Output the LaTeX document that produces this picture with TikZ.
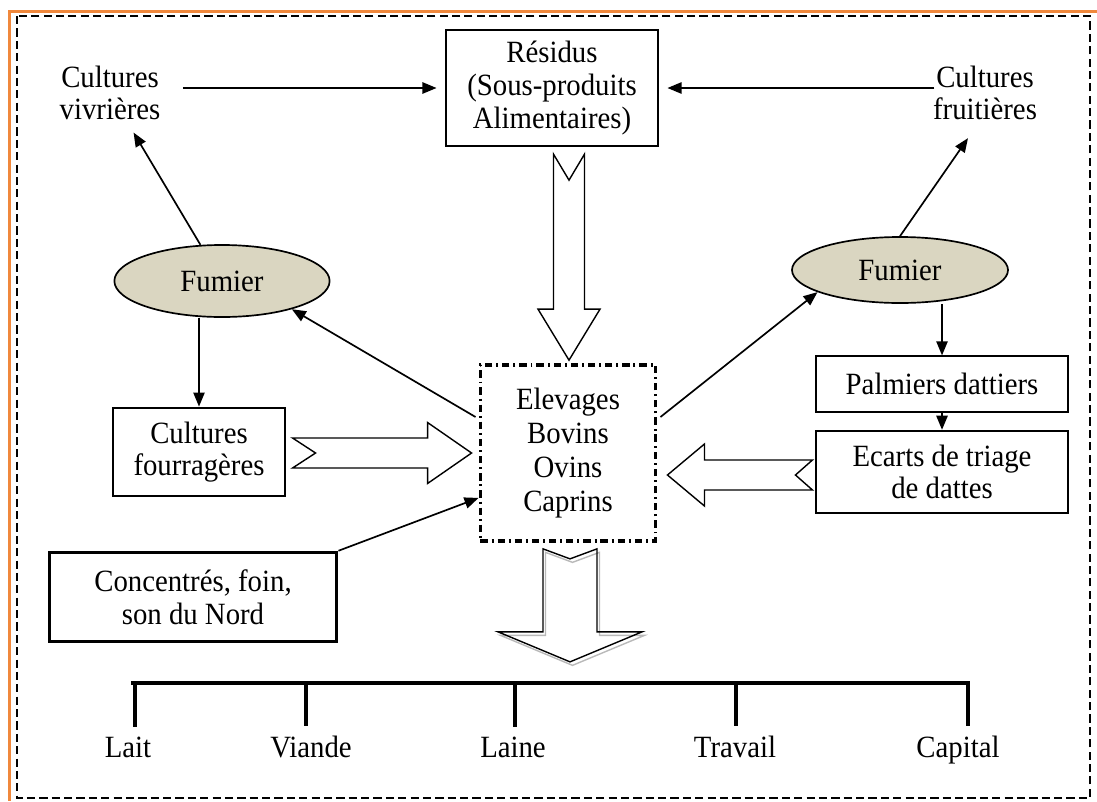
\documentclass[tikz,border=0pt]{standalone}
\usepackage{fontspec}
\setmainfont{Liberation Serif}[FakeStretch=0.93]
\usetikzlibrary{shapes.geometric,arrows.meta,calc}
\definecolor{fumiercol}{RGB}{218,214,193}
\definecolor{cadreorange}{RGB}{240,136,60}

% fleche creuse : [style]{pointe}{angle}{longueur}{demi-largeur corps}{demi-largeur tete}{longueur tete}{encoche}
\newcommand{\blockarrow}[8][]{%
  \begin{scope}[shift={#2},rotate=#3]
    \draw[#1] (0,0) -- (-#7,#6) -- (-#7,#5) -- (-#4,#5) -- (-#4+#8,0)
      -- (-#4,-#5) -- (-#7,-#5) -- (-#7,-#6) -- cycle;
  \end{scope}}

\begin{document}
\begin{tikzpicture}[x=0.0125cm, y=-0.0125cm,
  every node/.style={font=\fontsize{11}{11.6}\selectfont},
  box/.style={draw, line width=0.7pt, align=center, inner sep=0pt},
  fumier/.style={ellipse, draw, fill=fumiercol, line width=0.6pt, inner sep=0pt},
  txt/.style={align=center},
  arr/.style={-{Triangle[length=5pt,width=4pt]}, line width=0.6pt},
  hollow/.style={line width=0.5pt, line join=miter},
  prod/.style={anchor=base},
  tick/.style={line width=1.1pt}]

	\useasboundingbox (0,0) rectangle (1097,801);
	
	% cadres
	\draw[cadreorange, line width=1.1pt] (1097,11.5) -- (9.5,11.5) -- (9.5,801);
	\draw[line width=0.7pt, dash pattern=on 2.9pt off 1.5pt] (17,16) rectangle (1090,798);
	
	\node[txt] (vivr) at (110,93) {Cultures\\vivrières};
	\node[txt] (fruit) at (985,93) {Cultures\\fruitières};
	\node[box, minimum width=2.65cm, minimum height=1.46cm] (resid) at (552,88) {Résidus\\(Sous-produits\\Alimentaires)};
	
	\node[fumier, minimum width=2.69cm, minimum height=0.9cm] (fumL) at (222,281) {Fumier};
	\node[fumier, minimum width=2.7cm, minimum height=0.825cm] (fumR) at (900,270) {Fumier};
	
	\node[box, line width=1.3pt, dash pattern=on 2.6pt off 1.4pt on 0.7pt off 1.4pt, minimum width=2.19cm, minimum height=2.2cm, font=\fontsize{11}{12}\selectfont] (elev) at (568,453) {Elevages\\Bovins\\Ovins\\Caprins};
	
	\node[box, minimum width=2.15cm, minimum height=1.11cm] (fourr) at (199,452) {Cultures\\fourragères};
	\node[box, minimum width=3.15cm, minimum height=0.69cm] (palm) at (942,384) {Palmiers dattiers};
	\node[box, minimum width=3.15cm, minimum height=1.03cm] (ecart) at (942,472) {Ecarts de triage\\de dattes};
	\node[box, line width=1.3pt, minimum width=3.59cm, minimum height=1.11cm] (conc) at (193,597) {Concentrés, foin,\\son du Nord};
	
	% produits
	\coordinate (barW) at (131,683);
	\coordinate (barE) at (970,683);
	\coordinate (tLait) at (135,683);
	\coordinate (tViande) at (306,683);
	\coordinate (tLaine) at (515,683);
	\coordinate (tTravail) at (736,683);
	\coordinate (tCapital) at (968,683);
	\node[prod] (lait) at (128,757) {Lait};
	\node[prod] (viande) at (311,757) {Viande};
	\node[prod] (laine) at (513,757) {Laine};
	\node[prod] (travail) at (735,757) {Travail};
	\node[prod] (capital) at (958,757) {Capital};
	
	\draw[tick] (barW) -- (barE);
	\draw[tick] (tLait) -- (tLait |- lait.north);
	\draw[tick] (tViande) -- (tViande |- viande.north);
	\draw[tick] (tLaine) -- (tLaine |- laine.north);
	\draw[tick] (tTravail) -- (tTravail |- travail.north);
	\draw[tick] (tCapital) -- (tCapital |- capital.north);
	
	% fleches creuses
	\blockarrow[hollow]{($(elev.north)+(1,-3)$)}{-90}{206}{15.5}{31}{51}{26}
	\blockarrow[hollow]{($(elev.west)+(-7,0)$)}{0}{179}{15}{30.5}{44}{23}
	\blockarrow[hollow]{($(elev.east)+(10,22)$)}{180}{145}{15}{31}{37}{17}
	\blockarrow[hollow, gray!55]{($(elev.south)+(4.5,122.5)$)}{-90}{113}{27}{72}{30}{10}
	\blockarrow[hollow]{($(elev.south)+(2,119)$)}{-90}{113}{27}{72}{30}{10}
	
	% fleches
	\draw[arr, shorten <=4.5pt, shorten >=3pt] (vivr.east |- resid.west) -- (resid.west);
	\draw[arr, shorten <=-4pt, shorten >=3pt] (fruit.west |- resid.east) -- (resid.east);
	\draw[arr, shorten >=1pt] (fumL) -- (vivr);
	\draw[arr] (fumR.north) -- ($(fruit.south)+(-17,8)$);
	\draw[arr] ($(elev.west)+(-3,-36)$) -- (fumL.-22);
	\draw[arr] ($(elev.east)+(3,-36)$) -- (fumR.195);
	\draw[arr] (fumL.south -| fourr.north) -- (fourr.north);
	\draw[arr] (fumR.south -| palm.north) -- (palm.north);
	\draw[arr] (palm) -- (ecart);
	\draw[arr] (conc.north east) -- ($(elev.south west)!0.25!(elev.north west)$);
	
\end{tikzpicture}
\end{document}
